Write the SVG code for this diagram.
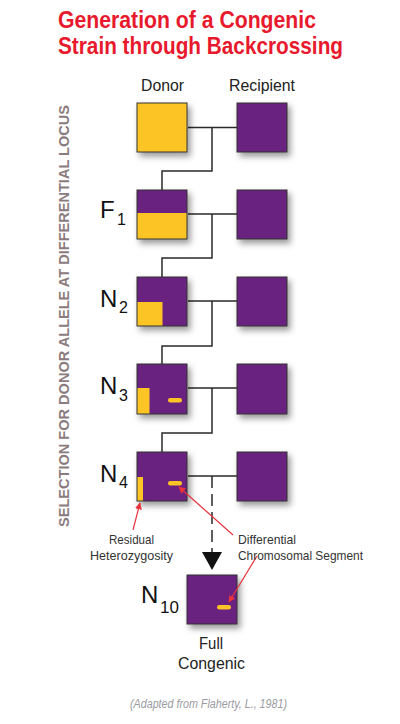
<svg xmlns="http://www.w3.org/2000/svg" width="400" height="724" viewBox="0 0 400 724">
<defs>
<filter id="sh" x="-20%" y="-20%" width="150%" height="150%">
<feDropShadow dx="3" dy="4" stdDeviation="3" flood-color="#000" flood-opacity="0.4"/>
</filter>
<marker id="ra" viewBox="0 0 10 10" refX="9" refY="5" markerWidth="7" markerHeight="7" orient="auto" markerUnits="userSpaceOnUse">
<path d="M0,0 L10,5 L0,10 z" fill="#E8323C"/>
</marker>
<style>
.title{font-family:"Liberation Sans",Arial,sans-serif;font-weight:bold;font-size:24px;fill:#E8192C}
.hdr{font-family:"Liberation Sans",Arial,sans-serif;font-size:16px;fill:#222}
.gen{font-family:"Liberation Sans",Arial,sans-serif;font-size:24px;fill:#111}
.sub{font-size:16px}
.lbl{font-family:"Liberation Sans",Arial,sans-serif;font-size:13px;fill:#333}
.side{font-family:"Liberation Sans",Arial,sans-serif;font-weight:bold;font-size:14px;fill:#8B7B7E}
.foot{font-family:"Liberation Sans",Arial,sans-serif;font-style:italic;font-size:12px;fill:#9a9aa2}
.sq{stroke:#333;stroke-width:1}
.y{fill:#FDC427}
.p{fill:#6B2380}
.con{fill:none;stroke:#2a2a2a;stroke-width:1.5}
.red{fill:none;stroke:#E8323C;stroke-width:1.2}
</style>
</defs>
<rect width="400" height="724" fill="#fff"/>
<g id="title">
<text class="title" x="58" y="27.5" textLength="258" lengthAdjust="spacingAndGlyphs">Generation of a Congenic</text>
<text class="title" x="58" y="54" textLength="285" lengthAdjust="spacingAndGlyphs">Strain through Backcrossing</text>
</g>
<g id="headers">
<text class="hdr" x="141" y="91" textLength="43" lengthAdjust="spacingAndGlyphs">Donor</text>
<text class="hdr" x="229" y="91" textLength="66" lengthAdjust="spacingAndGlyphs">Recipient</text>
</g>
<g id="side-label">
<text class="side" transform="translate(69,316) rotate(-90)" text-anchor="middle" textLength="422" lengthAdjust="spacingAndGlyphs">SELECTION FOR DONOR ALLELE AT DIFFERENTIAL LOCUS</text>
</g>
<g id="connectors">
<path class="con" d="M188,127.5 H237 M212,127.5 V171 H162 V190"/>
<path class="con" d="M188,214 H237 M212,214 V258 H162 V277"/>
<path class="con" d="M188,301 H237 M212,301 V346 H162 V364"/>
<path class="con" d="M188,388 H237 M212,388 V433 H162 V452"/>
<path class="con" d="M188,476 H237"/>
<path class="con" d="M212,476 V552" stroke-dasharray="12,6"/>
<path d="M202,552 L222,552 L212,570 z" fill="#111"/>
</g>
<g id="donor">
<rect class="sq y" x="137" y="103" width="50" height="49" filter="url(#sh)"/>
</g>
<g id="recipient">
<rect class="sq p" x="237" y="103" width="50" height="49" filter="url(#sh)"/>
</g>
<g id="f1">
<g filter="url(#sh)">
<rect class="p" x="137" y="190" width="50" height="23"/>
<rect class="y" x="137" y="213" width="50" height="26"/>
<rect class="sq" fill="none" x="137" y="190" width="50" height="49"/>
</g>
<text class="gen" x="100" y="218">F<tspan class="sub" x="117" y="225">1</tspan></text>
</g>
<g id="f1-recipient"><rect class="sq p" x="237" y="190" width="50" height="49" filter="url(#sh)"/></g>
<g id="n2">
<g filter="url(#sh)">
<rect class="p" x="137" y="277" width="50" height="49"/>
<rect class="y" x="137" y="302" width="25.5" height="24"/>
<rect class="sq" fill="none" x="137" y="277" width="50" height="49"/>
</g>
<text class="gen" x="100" y="307">N<tspan class="sub" x="119" y="313">2</tspan></text>
</g>
<g id="n2-recipient"><rect class="sq p" x="237" y="277" width="50" height="49" filter="url(#sh)"/></g>
<g id="n3">
<g filter="url(#sh)">
<rect class="p" x="137" y="364" width="50" height="50"/>
<rect class="y" x="137" y="388" width="12.5" height="26"/>
<rect class="y" x="168" y="398" width="14" height="4.5" rx="2.2"/>
<rect class="sq" fill="none" x="137" y="364" width="50" height="50"/>
</g>
<text class="gen" x="100" y="394">N<tspan class="sub" x="119" y="401">3</tspan></text>
</g>
<g id="n3-recipient"><rect class="sq p" x="237" y="364" width="50" height="50" filter="url(#sh)"/></g>
<g id="n4">
<g filter="url(#sh)">
<rect class="p" x="137" y="452" width="50" height="49"/>
<rect class="y" x="137" y="477" width="6" height="24"/>
<rect class="y" x="168" y="481" width="14" height="4.5" rx="2.2"/>
<rect class="sq" fill="none" x="137" y="452" width="50" height="49"/>
</g>
<text class="gen" x="100" y="482">N<tspan class="sub" x="119" y="488">4</tspan></text>
</g>
<g id="n4-recipient"><rect class="sq p" x="237" y="452" width="50" height="49" filter="url(#sh)"/></g>
<g id="n10">
<g filter="url(#sh)">
<rect class="p" x="187" y="575" width="50" height="49"/>
<rect class="y" x="217" y="605" width="14" height="4.5" rx="2.2"/>
<rect class="sq" fill="none" x="187" y="575" width="50" height="49"/>
</g>
<text class="gen" x="141" y="603">N<tspan class="sub" x="160" y="613" style="font-size:17px">10</tspan></text>
<text class="hdr" x="211" y="649" text-anchor="middle" textLength="24" lengthAdjust="spacingAndGlyphs">Full</text>
<text class="hdr" x="211.5" y="669" text-anchor="middle" textLength="67" lengthAdjust="spacingAndGlyphs">Congenic</text>
</g>
<g id="annotations">
<path class="red" d="M133,530 L140,503" marker-end="url(#ra)"/>
<path class="red" d="M233,535 L179,487" marker-end="url(#ra)"/>
<path class="red" d="M257,556 L229,602" marker-end="url(#ra)"/>
<text class="lbl" x="131.5" y="544" text-anchor="middle" textLength="45" lengthAdjust="spacingAndGlyphs">Residual</text>
<text class="lbl" x="131.5" y="560" text-anchor="middle" textLength="83" lengthAdjust="spacingAndGlyphs">Heterozygosity</text>
<text class="lbl" x="238" y="544" textLength="58" lengthAdjust="spacingAndGlyphs">Differential</text>
<text class="lbl" x="238" y="560" textLength="125" lengthAdjust="spacingAndGlyphs">Chromosomal Segment</text>
</g>
<g id="footer">
<text class="foot" x="130" y="708" textLength="157" lengthAdjust="spacingAndGlyphs">(Adapted from Flaherty, L., 1981)</text>
</g>
</svg>
